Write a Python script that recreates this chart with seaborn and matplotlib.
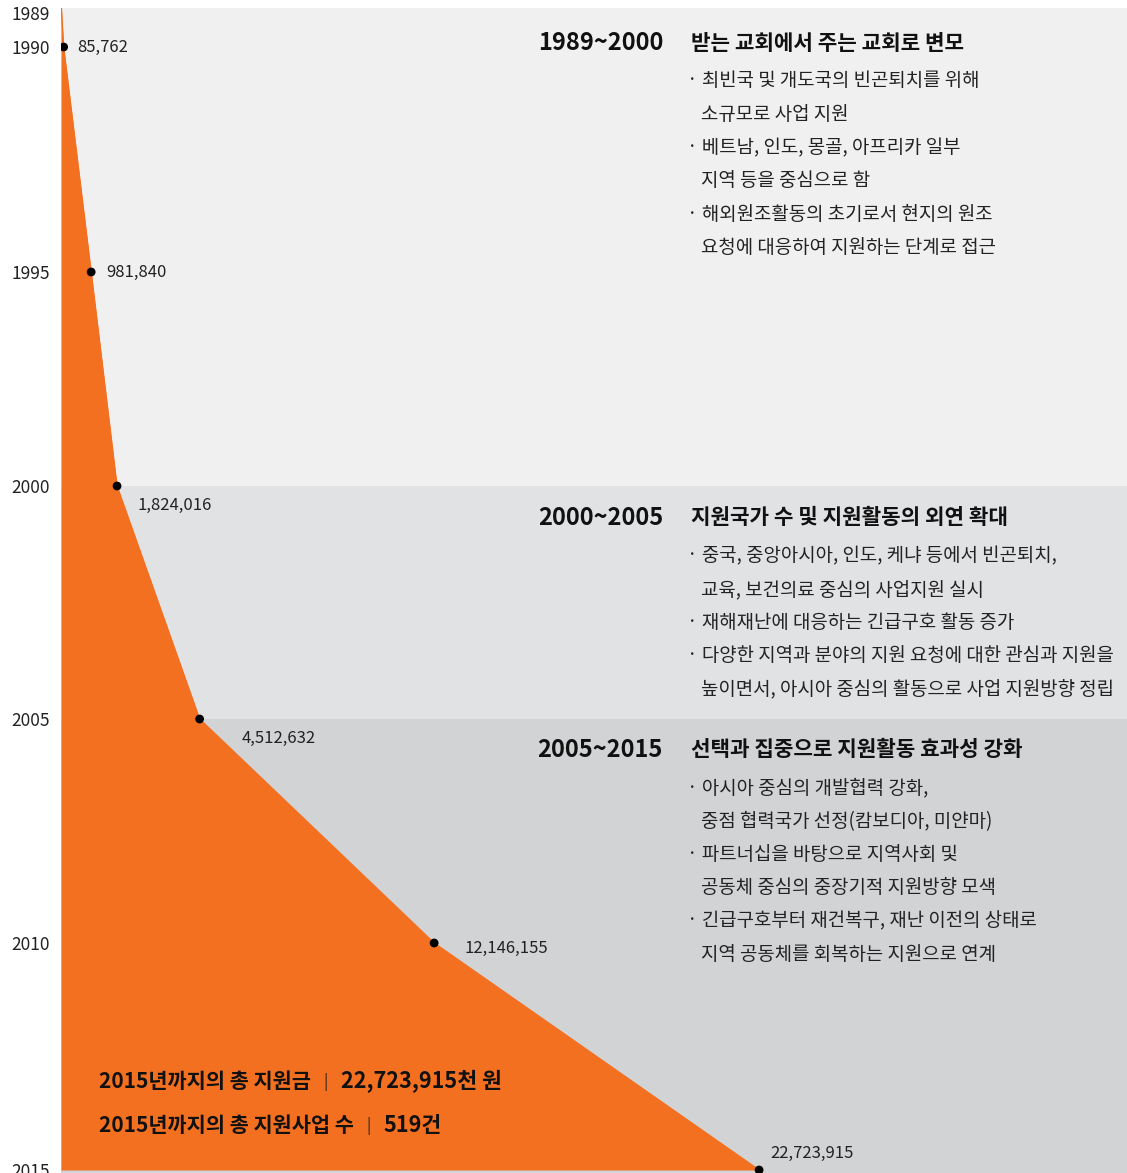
import numpy as np
import pandas as pd
import matplotlib
matplotlib.use("Agg")
import matplotlib.pyplot as plt
import seaborn as sns

# data
years = [1989, 1990, 1995, 2000, 2005, 2010, 2015]
totals = [0, 85762, 981840, 1824016, 4512632, 12146155, 22723915]
value_labels = ["85,762", "981,840", "1,824,016", "4,512,632", "12,146,155", "22,723,915"]
tick_years = [1990, 1995, 2000, 2005, 2010, 2015]

periods = ["1989~2000", "2000~2005", "2005~2015"]
period_spans = [(1989, 2000), (2000, 2005), (2005, 2016)]
period_titles = ["받는 교회에서 주는 교회로 변모",
                 "지원국가 수 및 지원활동의 외연 확대",
                 "선택과 집중으로 지원활동 효과성 강화"]
period_notes = [
    [("· 최빈국 및 개도국의 빈곤퇴치를 위해", "소규모로 사업 지원"),
     ("· 베트남, 인도, 몽골, 아프리카 일부", "지역 등을 중심으로 함"),
     ("· 해외원조활동의 초기로서 현지의 원조", "요청에 대응하여 지원하는 단계로 접근")],
    [("· 중국, 중앙아시아, 인도, 케냐 등에서 빈곤퇴치,", "교육, 보건의료 중심의 사업지원 실시"),
     ("· 재해재난에 대응하는 긴급구호 활동 증가", None),
     ("· 다양한 지역과 분야의 지원 요청에 대한 관심과 지원을", "높이면서, 아시아 중심의 활동으로 사업 지원방향 정립")],
    [("· 아시아 중심의 개발협력 강화,", "중점 협력국가 선정(캄보디아, 미얀마)"),
     ("· 파트너십을 바탕으로 지역사회 및", "공동체 중심의 중장기적 지원방향 모색"),
     ("· 긴급구호부터 재건복구, 재난 이전의 상태로", "지역 공동체를 회복하는 지원으로 연계")],
]
summary_labels = ["2015년까지의 총 지원금", "2015년까지의 총 지원사업 수"]
summary_values = ["22,723,915천 원", "519건"]

band_colors = ["#f0f0f0", "#e1e2e4", "#d2d3d5"]
orange = "#f37021"

sns.set_theme(style="white")
plt.rcParams["font.family"] = ["Noto Sans CJK KR", "DejaVu Sans"]

W, H = 1127, 1173
fig = plt.figure(figsize=(W / 100, H / 100), dpi=100)
ax = fig.add_axes([61 / W, 0, 1 - 61 / W, 1 - 8 / H])

def px(x, y):
    return x / W, 1 - y / H

# the timeline in the original is drawn slightly unevenly; follow its spacing
scale_years = [1989, 1990, 1995, 2000, 2005, 2010, 2015, 2016]
scale_pos = [2, 47, 272, 486, 719, 943, 1170, 1215]

def fwd(v):
    return np.interp(v, scale_years, scale_pos)

def inv(v):
    return np.interp(v, scale_pos, scale_years)

ax.set_yscale("function", functions=(fwd, inv))

df = pd.DataFrame({"year": years, "total": totals})

for (y0, y1), c in zip(period_spans, band_colors):
    ax.axhspan(y0, y1, color=c, lw=0, zorder=0)

ax.fill_betweenx(df["year"], 0, df["total"], color=orange, lw=0, zorder=1)
sns.lineplot(data=df, x="total", y="year", orient="y", sort=False,
             color=orange, lw=1, ax=ax, zorder=2)
sns.scatterplot(data=df.iloc[1:], x="total", y="year", color="black",
                s=40, edgecolor="none", ax=ax, zorder=3)

offsets = [(10, 0), (11, 0), (15, -14), (30, -14), (22, -4), (8, 12)]
for (yr, tot), lab, off in zip(zip(years[1:], totals[1:]), value_labels, offsets):
    ax.annotate(lab, (tot, yr), xytext=off, textcoords="offset points",
                ha="left", va="center", fontsize=12, color="#222222")

ax.set_xlim(0, (W - 61) / 30.72 * 1e6)
ax.set_ylim(inv(1173), inv(8))
ax.set_yticks(tick_years)
ax.set_yticklabels([str(y) for y in tick_years], fontsize=12.5, color="#222222")
ax.tick_params(axis="y", length=0, pad=8)
ax.set_xticks([])
ax.set_xlabel("")
ax.set_ylabel("")
for s in ax.spines.values():
    s.set_visible(False)
fig.text(*px(50, 15), "1989", ha="right", va="center", fontsize=12.5, color="#222222")

# period notes
header_y = [43, 518, 750]
for i in range(3):
    y = header_y[i]
    fig.text(*px(663, y), periods[i], ha="right", va="center",
             fontsize=17, fontweight="bold", color="#111111")
    fig.text(*px(691, y), period_titles[i], ha="left", va="center",
             fontsize=15.3, fontweight="bold", color="#111111")
    y += 38
    for first, second in period_notes[i]:
        fig.text(*px(687, y), first, ha="left", va="center", fontsize=13.6, color="#222222")
        y += 33.3
        if second:
            fig.text(*px(701, y), second, ha="left", va="center", fontsize=13.6, color="#222222")
            y += 33.3

# summary
for j, (lab, val) in enumerate(zip(summary_labels, summary_values)):
    y = 1082 + 44 * j
    t = fig.text(*px(99, y), lab, ha="left", va="center", fontsize=15,
                 fontweight="bold", color="#111111")
    fig.canvas.draw()
    bb = t.get_window_extent()
    x_sep = bb.x1 + 15
    fig.text(x_sep / W, 1 - y / H, "|", ha="center", va="center", fontsize=11, color="#222222")
    fig.text((x_sep + 15) / W, 1 - y / H, val, ha="left", va="center", fontsize=15.6,
             fontweight="bold", color="#111111")

fig.savefig("out.png", dpi=100)
